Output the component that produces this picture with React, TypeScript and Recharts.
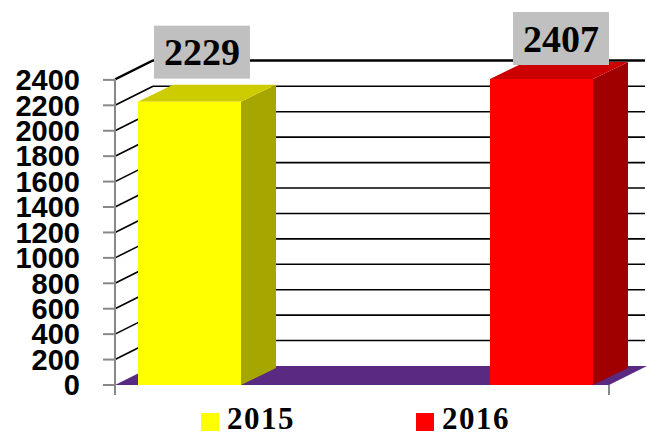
import React from 'react';
import { BarChart, Bar, XAxis, YAxis, CartesianGrid, LabelList, Legend } from 'recharts';

const categories = ['Total'];
const seriesNames = ['2015', '2016'];
const values2015 = [2229];
const values2016 = [2407];
const yTicks = [0, 200, 400, 600, 800, 1000, 1200, 1400, 1600, 1800, 2000, 2200, 2400];

const data = categories.map((c, i) => ({ cat: c, s2015: values2015[i], s2016: values2016[i] }));

const FRONT = ['#FFFF00', '#FF0000'];
const TOP = ['#CCCC00', '#CC0000'];
const SIDE = ['#A6A600', '#A00000'];

const BDX = 35;
const BDY = -17;
const FDX = 38;
const FDY = -19;

const makeShape = (k: number) => (props: any) => {
  const { x, y, width, height } = props;
  if (width == null || height == null) return <g />;
  const r = x + width;
  const b = y + height;
  return (
    <g>
      <polygon
        points={`${r},${y} ${r + BDX},${y + BDY} ${r + BDX},${b + BDY} ${r},${b}`}
        fill={SIDE[k]}
      />
      <polygon
        points={`${x},${y} ${x + BDX},${y + BDY} ${r + BDX},${y + BDY} ${r},${y}`}
        fill={TOP[k]}
      />
      <rect x={x} y={y} width={width} height={height} fill={FRONT[k]} />
    </g>
  );
};

const makeLabel = (dxBox: number, dyBottom: number) => (props: any) => {
  const { x, y, value } = props;
  const w = 96;
  const h = 53;
  const left = x + dxBox;
  const top = y - dyBottom - h;
  return (
    <g>
      <rect x={left} y={top} width={w} height={h} fill="#C0C0C0" />
      <text
        x={left + w / 2}
        y={top + h / 2 + 13}
        textAnchor="middle"
        fontFamily="'Liberation Serif', 'Times New Roman', serif"
        fontWeight="bold"
        fontSize={38}
        fill="#000"
      >
        {value}
      </text>
    </g>
  );
};

const gridLine = (p: any) => {
  const { x1, y1, x2, y, height, key } = p;
  const isBottom = Math.abs(y1 - (y + height)) < 1;
  if (isBottom) {
    return (
      <g key={key}>
        <polygon
          points={`${x1},${y1} ${x2},${y1} ${x2 + FDX},${y1 + FDY} ${x1 + FDX},${y1 + FDY}`}
          fill="#5A2A82"
        />
        <line x1={x1} y1={y1} x2={x1} y2={y1 + 10} stroke="#888" strokeWidth={2} />
        <line x1={x2} y1={y1} x2={x2} y2={y1 + 10} stroke="#888" strokeWidth={2} />
      </g>
    );
  }
  return (
    <g key={key}>
      <line x1={x1} y1={y1} x2={x1 + FDX} y2={y1 + FDY} stroke="#000" strokeWidth={1.6} />
      <line x1={x1 + FDX} y1={y1 + FDY} x2={x2 + FDX - 2} y2={y1 + FDY} stroke="#000" strokeWidth={1.6} />
    </g>
  );
};

const legendContent = (props: any) => {
  const payload = props.payload || [];
  const starts = [201, 416];
  return (
    <svg width={647} height={36} style={{ display: 'block' }}>
      {payload.map((item: any, i: number) => (
        <g key={i}>
          <rect x={starts[i]} y={13} width={18} height={18} fill={item.color} />
          <text
            x={starts[i] + 26}
            y={29}
            fontFamily="'Liberation Serif', 'Times New Roman', serif"
            fontWeight="bold"
            fontSize={31}
            letterSpacing={1.5}
            fill="#000"
          >
            {item.value}
          </text>
        </g>
      ))}
    </svg>
  );
};

export default function App() {
  return (
    <div style={{ position: 'absolute', left: 0, top: 0, width: 647, height: 436, background: '#fff' }}>
      <BarChart
        width={647}
        height={436}
        data={data}
        margin={{ top: 79, right: 38, bottom: 51, left: 15 }}
        barSize={103}
        barGap={249}
      >
        <CartesianGrid vertical={false} horizontal={gridLine} />
        <XAxis
          dataKey="cat"
          tick={false}
          tickLine={false}
          height={0}
          padding={{ left: 6, right: 0 }}
          axisLine={{ stroke: '#888', strokeWidth: 2 }}
        />
        <YAxis
          width={100}
          domain={[0, 2400]}
          ticks={yTicks}
          interval={0}
          tickSize={12}
          tickMargin={23}
          axisLine={{ stroke: '#888', strokeWidth: 2 }}
          tickLine={{ stroke: '#888', strokeWidth: 2 }}
          tick={{ fontFamily: "'Liberation Sans', Arial, sans-serif", fontWeight: 'bold', fontSize: 29, fill: '#000' }}
        />
        <Legend
          layout="horizontal"
          verticalAlign="middle"
          align="center"
          content={legendContent}
          wrapperStyle={{ position: 'absolute', left: 0, top: 400, width: 647, height: 36 }}
        />
        <Bar dataKey="s2015" name={seriesNames[0]} fill={FRONT[0]} shape={makeShape(0)} isAnimationActive={false}>
          <LabelList dataKey="s2015" content={makeLabel(16, 23)} />
        </Bar>
        <Bar dataKey="s2016" name={seriesNames[1]} fill={FRONT[1]} shape={makeShape(1)} isAnimationActive={false}>
          <LabelList dataKey="s2016" content={makeLabel(23, 14)} />
        </Bar>
      </BarChart>
    </div>
  );
}
